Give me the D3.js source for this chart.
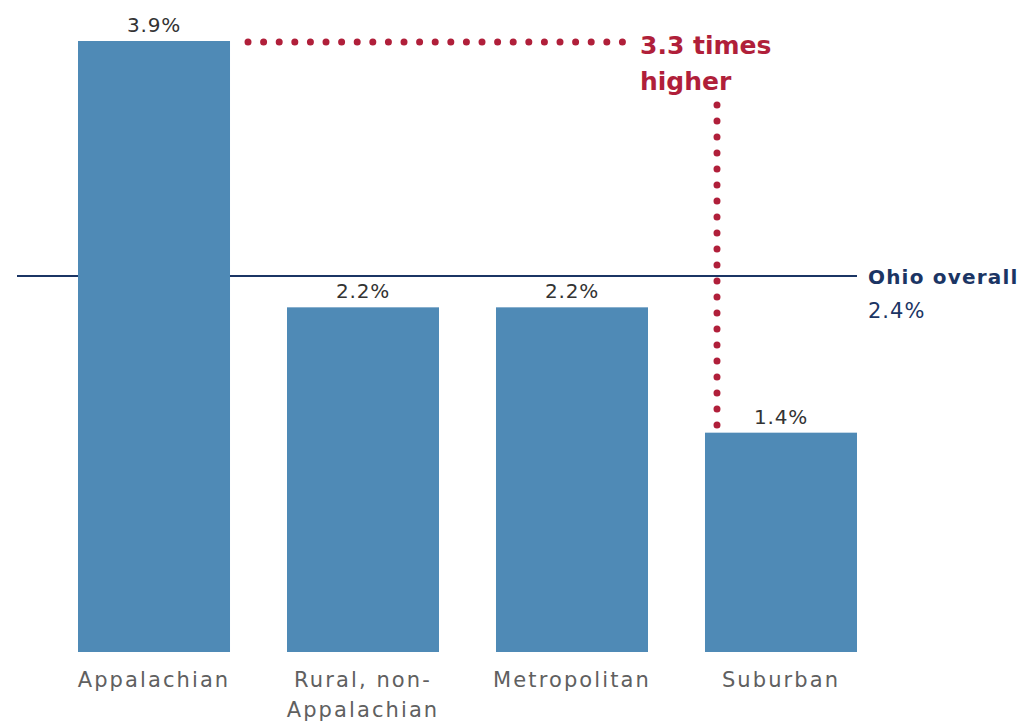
<!DOCTYPE html>
<html>
<head>
<meta charset="utf-8">
<script src="https://cdn.jsdelivr.net/npm/d3@7"></script>
<style>
body { margin: 0; background: #fff; }
text { font-family: "Century Gothic", "URW Gothic", "DejaVu Sans", sans-serif; }
</style>
</head>
<body>
<div id="chart"></div>
<script>
var categories = [["Appalachian"], ["Rural, non-", "Appalachian"], ["Metropolitan"], ["Suburban"]];
var values = [3.9, 2.2, 2.2, 1.4];
var valueLabels = ["3.9%", "2.2%", "2.2%", "1.4%"];
var overall = 2.4;
var overallLabel = "2.4%";
var callout = ["3.3 times", "higher"];

var width = 1030, height = 722;
var margin = {top: 41, bottom: 70, left: 17, right: 173};

var svg = d3.select("#chart").append("svg")
	.attr("width", width)
	.attr("height", height);

var x = d3.scaleBand()
	.domain(d3.range(values.length))
	.range([49.5, 885.5])
	.paddingInner(0.2727)
	.paddingOuter(0.1364);

var y = d3.scaleLinear()
	.domain([0, 3.9])
	.range([652, 41]);

// overall reference line (behind bars)
svg.append("line")
	.attr("x1", margin.left)
	.attr("x2", x(3) + x.bandwidth())
	.attr("y1", y(overall))
	.attr("y2", y(overall))
	.attr("stroke", "#1b3564")
	.attr("stroke-width", 2);

svg.selectAll("rect.bar")
	.data(values)
	.enter().append("rect")
	.attr("class", "bar")
	.attr("x", function(d, i) { return x(i); })
	.attr("y", function(d) { return y(d); })
	.attr("width", x.bandwidth())
	.attr("height", function(d) { return y(0) - y(d); })
	.attr("fill", "#4f8ab6");

svg.selectAll("text.val")
	.data(values)
	.enter().append("text")
	.attr("class", "val")
	.attr("x", function(d, i) { return x(i) + x.bandwidth() / 2; })
	.attr("y", function(d) { return y(d) - 9; })
	.attr("text-anchor", "middle")
	.attr("font-size", 20)
	.attr("letter-spacing", 0.8)
	.attr("fill", "#333")
	.text(function(d, i) { return valueLabels[i]; });

var cat = svg.selectAll("text.cat")
	.data(categories)
	.enter().append("text")
	.attr("class", "cat")
	.attr("x", function(d, i) { return x(i) + x.bandwidth() / 2; })
	.attr("y", y(0) + 35)
	.attr("text-anchor", "middle")
	.attr("font-size", 21)
	.attr("letter-spacing", 2.1)
	.attr("fill", "#606060");
cat.selectAll("tspan")
	.data(function(d) { return d; })
	.enter().append("tspan")
	.attr("x", function() { return d3.select(this.parentNode).attr("x"); })
	.attr("dy", function(d, i) { return i === 0 ? 0 : 30; })
	.text(function(d) { return d; });

// overall label
svg.append("text")
	.attr("x", x(3) + x.bandwidth() + 11)
	.attr("y", y(overall) + 8)
	.attr("font-size", 20)
	.attr("font-weight", "bold")
	.attr("letter-spacing", 1.2)
	.attr("fill", "#1b3564")
	.text("Ohio overall");
svg.append("text")
	.attr("x", x(3) + x.bandwidth() + 11)
	.attr("y", y(overall) + 42)
	.attr("font-size", 21)
	.attr("letter-spacing", 1)
	.attr("fill", "#1b3564")
	.text(overallLabel);

// dotted callout
var red = "#b01f3a";
var vx = 717;
svg.append("line")
	.attr("x1", x(0) + x.bandwidth() + 18)
	.attr("x2", 628)
	.attr("y1", y(values[0]) + 1)
	.attr("y2", y(values[0]) + 1)
	.attr("stroke", red)
	.attr("stroke-width", 7)
	.attr("stroke-linecap", "round")
	.attr("stroke-dasharray", "0 15.6");
svg.append("line")
	.attr("x1", vx)
	.attr("x2", vx)
	.attr("y1", 105)
	.attr("y2", y(values[3]) - 1)
	.attr("stroke", red)
	.attr("stroke-width", 7)
	.attr("stroke-linecap", "round")
	.attr("stroke-dasharray", "0 16");

svg.selectAll("text.callout")
	.data(callout)
	.enter().append("text")
	.attr("class", "callout")
	.attr("x", 640)
	.attr("y", function(d, i) { return 54 + i * 36; })
	.attr("font-size", 25)
	.attr("font-weight", "bold")
	.attr("fill", red)
	.text(function(d) { return d; });
</script>
</body>
</html>
